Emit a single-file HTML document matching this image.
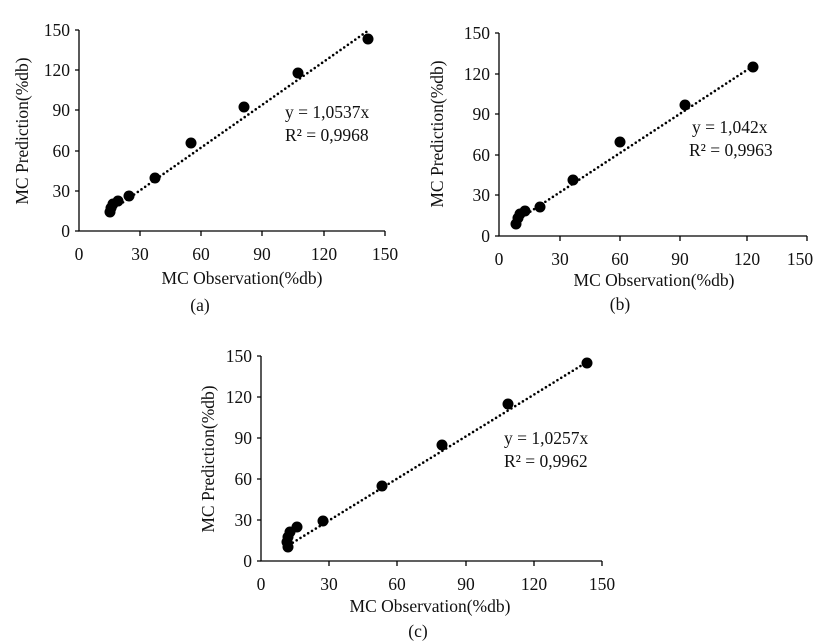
<!DOCTYPE html>
<html><head><style>
body{margin:0;background:#fff}
svg{display:block}
text{font-family:"Liberation Serif",serif;fill:#111}
</style></head><body>
<svg width="836" height="641" viewBox="0 0 836 641" xmlns="http://www.w3.org/2000/svg">
<g stroke="#000" stroke-width="1.3" fill="none">
<path d="M79,30V231H385"/>
<path d="M75,30H79M75,70H79M75,110H79M75,151H79M75,191H79M75,231H79M140,231V236M201,231V236M262,231V236M324,231V236M385,231V236"/>
<path d="M499,33V236H807"/>
<path d="M495,33H499M495,74H499M495,114H499M495,155H499M495,195H499M495,236H499M560,236V241M620,236V241M680,236V241M747,236V241M807,236V241"/>
<path d="M261,356V561H602"/>
<path d="M257,356H261M257,397H261M257,438H261M257,479H261M257,520H261M257,561H261M329,561V566M397,561V566M466,561V566M534,561V566M602,561V566"/>
</g>
<g stroke="#000" stroke-width="2.6" stroke-dasharray="0 4.5" stroke-linecap="round">
<line x1="112" y1="210" x2="369" y2="30"/>
<line x1="519" y1="219" x2="753" y2="66"/>
<line x1="289" y1="545" x2="587" y2="362"/>
</g>
<g fill="#000">
<circle cx="368" cy="39" r="5.5"/><circle cx="298" cy="73" r="5.5"/><circle cx="244" cy="107" r="5.5"/><circle cx="191" cy="143" r="5.5"/><circle cx="155" cy="178" r="5.5"/><circle cx="129" cy="196" r="5.5"/><circle cx="118" cy="201" r="5.5"/><circle cx="113" cy="204" r="5.5"/><circle cx="111" cy="208" r="5.5"/><circle cx="110" cy="212" r="5.5"/>
<circle cx="753" cy="67" r="5.5"/><circle cx="685" cy="105" r="5.5"/><circle cx="620" cy="142" r="5.5"/><circle cx="573" cy="180" r="5.5"/><circle cx="540" cy="207" r="5.5"/><circle cx="525" cy="211" r="5.5"/><circle cx="520" cy="214" r="5.5"/><circle cx="518" cy="218" r="5.5"/><circle cx="516" cy="224" r="5.5"/>
<circle cx="587" cy="363" r="5.5"/><circle cx="508" cy="404" r="5.5"/><circle cx="442" cy="445" r="5.5"/><circle cx="382" cy="486" r="5.5"/><circle cx="323" cy="521" r="5.5"/><circle cx="297" cy="527" r="5.5"/><circle cx="290" cy="532" r="5.5"/><circle cx="288" cy="537" r="5.5"/><circle cx="287" cy="542" r="5.5"/><circle cx="288" cy="547" r="5.5"/>
</g>
<g font-size="17.5">
<g text-anchor="end"><text x="70" y="36">150</text><text x="70" y="76">120</text><text x="70" y="116">90</text><text x="70" y="157">60</text><text x="70" y="197">30</text><text x="70" y="237">0</text></g>
<g text-anchor="middle"><text x="79" y="260">0</text><text x="140" y="260">30</text><text x="201" y="260">60</text><text x="262" y="260">90</text><text x="324" y="260">120</text><text x="385" y="260">150</text>
<text x="242" y="284">MC Observation(%db)</text><text x="200" y="311">(a)</text></g>
<text x="285" y="118">y = 1,0537x</text><text x="285" y="141">R² = 0,9968</text>
<text transform="translate(28,131) rotate(-90)" text-anchor="middle">MC Prediction(%db)</text>
<g text-anchor="end"><text x="490" y="39">150</text><text x="490" y="80">120</text><text x="490" y="120">90</text><text x="490" y="161">60</text><text x="490" y="201">30</text><text x="490" y="242">0</text></g>
<g text-anchor="middle"><text x="499" y="265">0</text><text x="560" y="265">30</text><text x="620" y="265">60</text><text x="680" y="265">90</text><text x="747" y="265">120</text><text x="800" y="265">150</text>
<text x="654" y="286">MC Observation(%db)</text><text x="620" y="310">(b)</text></g>
<text x="692" y="133">y = 1,042x</text><text x="689" y="156">R² = 0,9963</text>
<text transform="translate(443,134) rotate(-90)" text-anchor="middle">MC Prediction(%db)</text>
<g text-anchor="end"><text x="252" y="362">150</text><text x="252" y="403">120</text><text x="252" y="444">90</text><text x="252" y="485">60</text><text x="252" y="526">30</text><text x="252" y="567">0</text></g>
<g text-anchor="middle"><text x="261" y="590">0</text><text x="329" y="590">30</text><text x="397" y="590">60</text><text x="466" y="590">90</text><text x="534" y="590">120</text><text x="602" y="590">150</text>
<text x="430" y="612">MC Observation(%db)</text><text x="418" y="637">(c)</text></g>
<text x="504" y="444">y = 1,0257x</text><text x="504" y="467">R² = 0,9962</text>
<text transform="translate(214,459) rotate(-90)" text-anchor="middle">MC Prediction(%db)</text>
</g>
</svg>
</body></html>
